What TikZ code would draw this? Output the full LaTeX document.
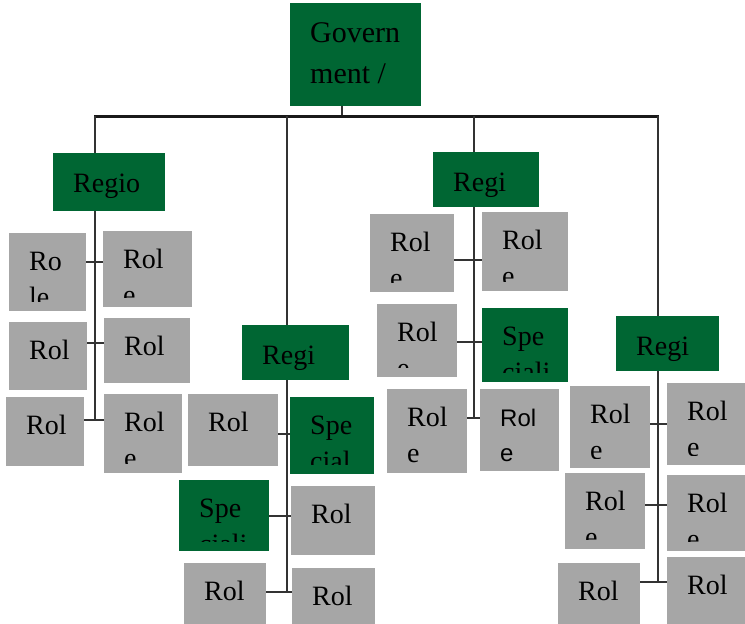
\documentclass[tikz,border=0pt]{standalone}
\usepackage{fontspec}
\setmainfont{Liberation Serif}
\newfontfamily\plainsans{Liberation Sans}
\definecolor{unitgreen}{RGB}{0,102,51}
\definecolor{rolegray}{RGB}{166,166,166}
\tikzset{
    orgbox/.style={rectangle, anchor=north west, inner sep=0pt, outer sep=0pt},
    unit/.style={orgbox, fill=unitgreen},
    role/.style={orgbox, fill=rolegray},
    boxtext/.style={anchor=base west, inner sep=0pt, font=\fontsize{28}{28}\selectfont},
    bus/.style={line width=3pt, color=black!90},
    spine/.style={line width=2pt, color=black!80},
    link/.style={line width=1.6pt, color=black!80},
}
% baseline of the first line and gap to the second one
\newcommand\OrgFirst{37}
\newcommand\OrgGap{36}
% box with its text clipped like the original
\newcommand\OrgBox[8]{%
    \node[#2, minimum width=#5pt, minimum height=#6pt] (#1) at (#3,#4) {};
    \begin{scope}
        \clip (#1.north west) rectangle ([yshift=10pt]#1.south east);
        \node[boxtext] (#1-1) at ([xshift=20pt,yshift=-\OrgFirst pt]#1.north west) {#7};
        \node[boxtext] (#1-2) at ([yshift=-\OrgGap pt]#1-1.base west) {#8};
    \end{scope}
}

\begin{document}
\begin{tikzpicture}[x=1pt,y=-1pt]
    \useasboundingbox (0,0) rectangle (745,624);
    {\renewcommand\OrgFirst{39}\renewcommand\OrgGap{41}
     \tikzset{boxtext/.append style={font=\fontsize{30}{30}\selectfont}}
     \OrgBox{gov}{unit}{290}{3}{131}{103}{Govern}{ment /}}
    % region heads
    {\renewcommand\OrgFirst{39}
     \OrgBox{reg1}{unit}{53}{153}{112}{58}{Regio}{n}
     \OrgBox{reg2}{unit}{242}{325}{107}{55}{Regi}{on}
     \OrgBox{reg3}{unit}{433}{152}{106}{55}{Regi}{on}
     \OrgBox{reg4}{unit}{616}{316}{103}{55}{Regi}{on}}
    % region 1
    \OrgBox{r1a}{role}{9}{233}{77}{78}{Ro}{le}
    \OrgBox{r1b}{role}{103}{231}{89}{76}{Rol}{e}
    \OrgBox{r1c}{role}{9}{322}{78}{68}{Rol}{}
    \OrgBox{r1d}{role}{104}{318}{86}{65}{Rol}{}
    \OrgBox{r1e}{role}{6}{397}{78}{69}{Rol}{}
    \OrgBox{r1f}{role}{104}{394}{78}{79}{Rol}{e}
    % region 2
    \OrgBox{r2a}{role}{188}{394}{90}{72}{Rol}{}
    \OrgBox{r2b}{unit}{290}{397}{84}{77}{Spe}{cial}
    \OrgBox{r2c}{unit}{179}{480}{90}{71}{Spe}{ciali}
    \OrgBox{r2d}{role}{291}{486}{84}{69}{Rol}{}
    \OrgBox{r2e}{role}{184}{563}{82}{61}{Rol}{}
    \OrgBox{r2f}{role}{292}{568}{83}{56}{Rol}{}
    % region 3
    \OrgBox{r3a}{role}{370}{214}{84}{78}{Rol}{e}
    \OrgBox{r3b}{role}{482}{212}{86}{79}{Rol}{e}
    \OrgBox{r3c}{role}{377}{304}{80}{73}{Rol}{e}
    \OrgBox{r3d}{unit}{482}{308}{86}{74}{Spe}{ciali}
    \OrgBox{r3e}{role}{387}{389}{80}{84}{Rol}{e}
    {\renewcommand\OrgGap{35}
     \tikzset{boxtext/.append style={font=\plainsans\fontsize{24}{24}\selectfont}}
     \OrgBox{r3f}{role}{480}{389}{79}{82}{Rol}{e}}
    % region 4
    \OrgBox{r4a}{role}{570}{386}{80}{82}{Rol}{e}
    \OrgBox{r4b}{role}{667}{383}{78}{82}{Rol}{e}
    \OrgBox{r4c}{role}{565}{473}{80}{76}{Rol}{e}
    \OrgBox{r4d}{role}{667}{475}{78}{76}{Rol}{e}
    \OrgBox{r4e}{role}{558}{563}{82}{61}{Rol}{}
    \OrgBox{r4f}{role}{667}{557}{78}{67}{Rol}{}
    % connectors
    \coordinate (g0) at (342,116);
    \coordinate (s1) at (95,116);
    \coordinate (s2) at (287,116);
    \coordinate (s3) at (474,116);
    \coordinate (s4) at (658,116);
    \draw[spine] (g0 |- gov.south) -- (g0);
    \draw[bus] ([xshift=-1pt]s1) -- ([xshift=1pt]s4);
    \foreach \s/\r/\y in {s1/reg1/420, s2/reg2/592, s3/reg3/418, s4/reg4/582} {
        \draw[spine] (\s) -- (\s |- \r.north);
        \draw[spine] (\s |- \r.south) -- (\s |- 0,\y);
    }
    \foreach \l/\r/\y in {r1a/r1b/262, r1c/r1d/343, r1e/r1f/420,
                          r2a/r2b/434, r2c/r2d/516, r2e/r2f/592,
                          r3a/r3b/260, r3c/r3d/342, r3e/r3f/418,
                          r4a/r4b/424, r4c/r4d/505, r4e/r4f/582}
        \draw[link] (\l.east |- 0,\y) -- (\r.west |- 0,\y);
\end{tikzpicture}
\end{document}
